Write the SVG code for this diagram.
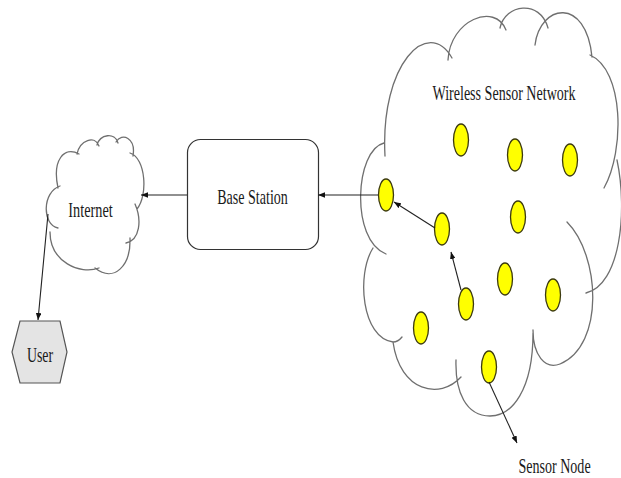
<svg xmlns="http://www.w3.org/2000/svg" width="621" height="478" viewBox="0 0 621 478">
  <style>
    .cloud { fill: none; stroke: #6f6f6f; stroke-width: 1.3; stroke-linecap: round; }
    .sn { fill: #ffff00; stroke: #3c3a10; stroke-width: 1.3; }
    .lbl { font-family: "Liberation Serif", "Times New Roman", serif; font-size: 21px; fill: #1a1a1a; text-anchor: middle; }
    .edge { fill: none; stroke: #222; stroke-width: 1.1; marker-end: url(#arr); }
  </style>
  <defs>
    <marker id="arr" viewBox="0 0 10 8" refX="10" refY="4" markerWidth="7" markerHeight="5.6" markerUnits="userSpaceOnUse" orient="auto">
      <path d="M0,0 L10,4 L0,8 z" fill="#111"/>
    </marker>
  </defs>
  <rect width="621" height="478" fill="#ffffff"/>

  <g id="wsn">
    <path class="cloud" d="M385,156 C380,64 428,16 452,58
      M448,60 C450,20 495,2 506,30
      M500,28 C505,4 540,-1 548,28
      M535,45 C540,4 586,-4 592,57
      M590,55 C624,70 625,150 604,188
      M617,160 C628,212 620,285 586,293
      M567,222 C600,255 605,345 560,364 C545,370 533,355 533,330
      M533,333 C533,390 512,416 490,416 C466,416 455,392 456,360
      M461,377 C440,400 400,392 393,342
      M373,248 C356,275 362,338 393,342 Q398,342 402,337
      M384,143 C355,150 350,240 386,254"/>
    <text class="lbl" transform="translate(504,100) scale(0.67,1)">Wireless Sensor Network</text>
  </g>

  <g id="sensor-nodes">
    <ellipse class="sn" cx="461" cy="140" rx="7.5" ry="16"/>
    <ellipse class="sn" cx="515" cy="155" rx="7.5" ry="16"/>
    <ellipse class="sn" cx="570" cy="160" rx="7.5" ry="16"/>
    <ellipse class="sn" cx="386" cy="195" rx="7.5" ry="16"/>
    <ellipse class="sn" cx="442" cy="229" rx="7.5" ry="16"/>
    <ellipse class="sn" cx="518" cy="217" rx="7.5" ry="16"/>
    <ellipse class="sn" cx="505" cy="279" rx="7.5" ry="16"/>
    <ellipse class="sn" cx="466" cy="304" rx="7.5" ry="16"/>
    <ellipse class="sn" cx="553" cy="295" rx="7.5" ry="16"/>
    <ellipse class="sn" cx="421" cy="328" rx="7.5" ry="16"/>
    <ellipse class="sn" cx="489" cy="367" rx="7.5" ry="16"/>
  </g>

  <g id="base-station">
    <rect x="187.5" y="139.5" width="131" height="110" rx="13" ry="13" fill="#ffffff" stroke="#333" stroke-width="1.2"/>
    <text class="lbl" transform="translate(252.5,204) scale(0.67,1)">Base Station</text>
  </g>

  <g id="internet">
    <path class="cloud" stroke="#5a5a5a" d="M58,188 C52,160 64,146 79,154
      M77,154 C80,140 95,135 99,146
      M97,145 C100,134 115,132 118,143
      M116,142 C122,132 136,138 133,156
      M130,153 C146,158 148,196 137,209
      M135,204 C142,220 140,240 126,243
      M130,238 C131,266 114,283 95,268
      M99,268 C80,275 50,262 50,232
      M58,228 C42,225 42,192 60,186"/>
    <text class="lbl" transform="translate(90.5,217) scale(0.68,1)">Internet</text>
  </g>

  <g id="user">
    <polygon points="20,321 60,321 67,352 60,383 20,383 12,352" fill="#e4e4e4" stroke="#555" stroke-width="1.2"/>
    <text class="lbl" transform="translate(40,362) scale(0.66,1)">User</text>
  </g>

  <g id="sensor-node-label">
    <text class="lbl" transform="translate(554.5,473) scale(0.67,1)">Sensor Node</text>
  </g>

  <g id="connectors">
    <line class="edge" x1="187" y1="195" x2="141" y2="195"/>
    <line class="edge" x1="378" y1="195" x2="318" y2="195"/>
    <line class="edge" x1="48" y1="214" x2="38" y2="320"/>
    <line class="edge" x1="435" y1="228" x2="394" y2="202"/>
    <line class="edge" x1="461" y1="290" x2="451" y2="252"/>
    <line class="edge" x1="489" y1="382" x2="517" y2="443"/>
  </g>
</svg>
